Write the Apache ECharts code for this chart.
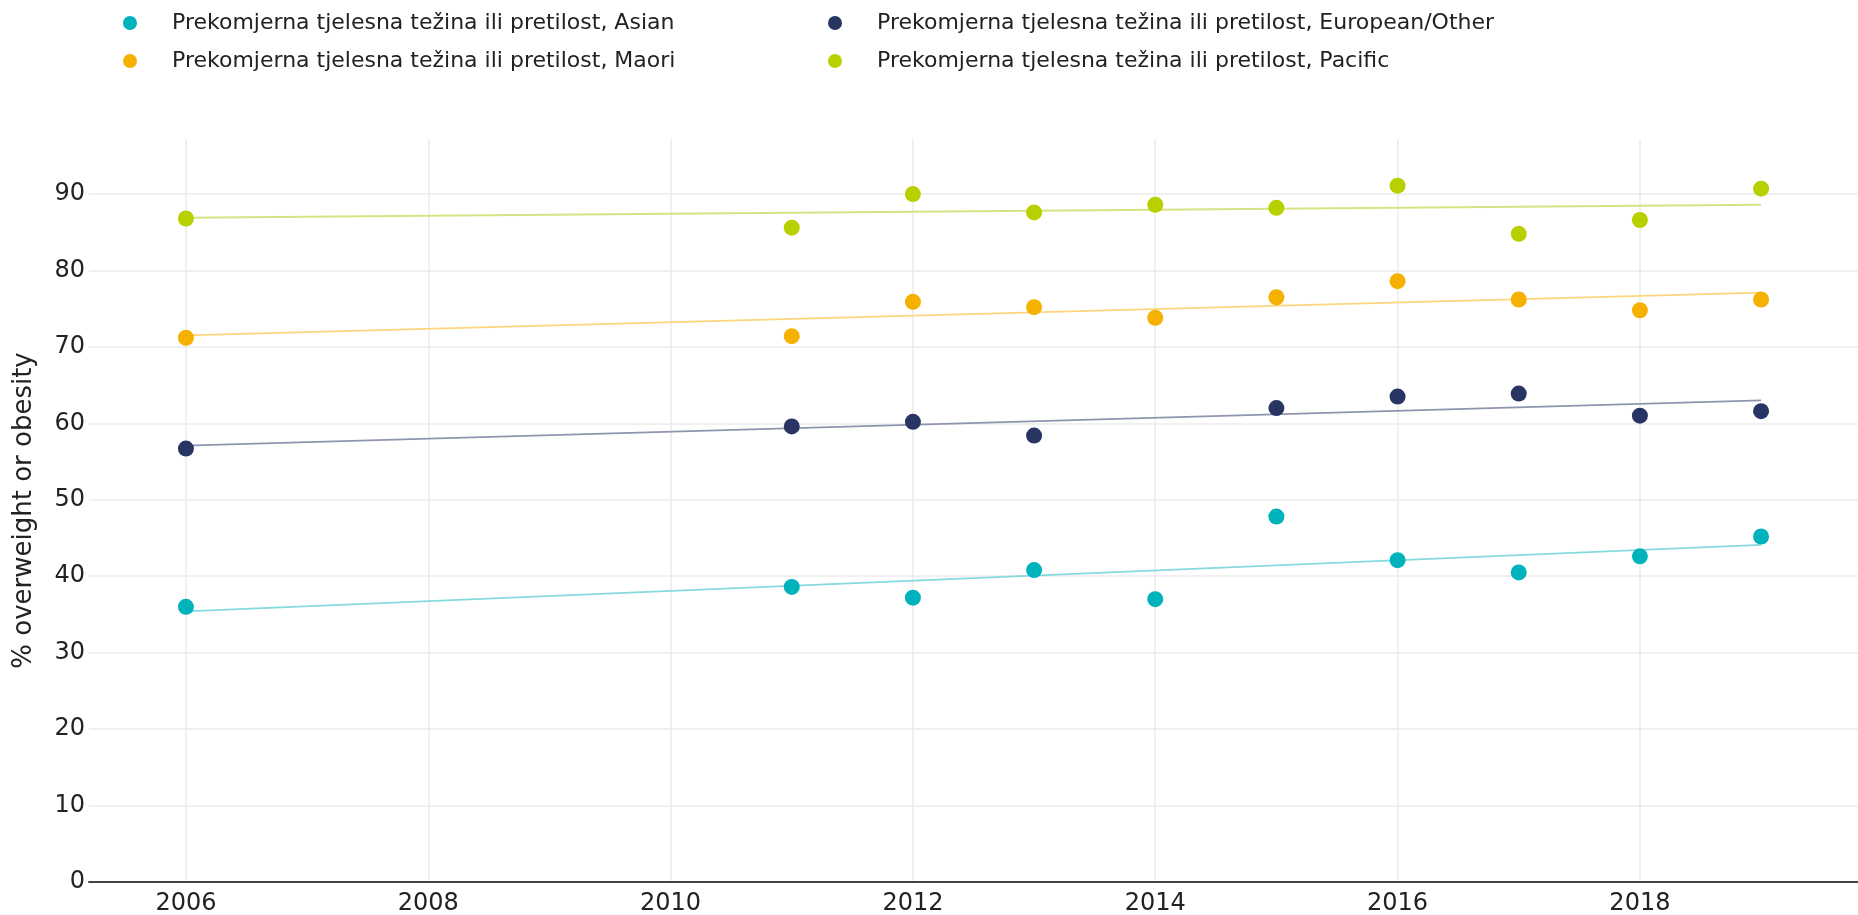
<!DOCTYPE html>
<html>
<head>
<meta charset="utf-8">
<script src="https://cdn.jsdelivr.net/npm/echarts@6/dist/echarts.min.js"></script>
<style>
html,body{margin:0;padding:0;background:#fff;}
#chart{width:1858px;height:915px;}
</style>
</head>
<body>
<div id="chart"></div>
<script>
var years = [2006, 2011, 2012, 2013, 2014, 2015, 2016, 2017, 2018, 2019];
var asian   = [36.0, 38.6, 37.2, 40.8, 37.0, 47.8, 42.1, 40.5, 42.6, 45.2];
var euro    = [56.7, 59.6, 60.2, 58.4, null, 62.0, 63.5, 63.9, 61.0, 61.6];
var maori   = [71.2, 71.4, 75.9, 75.2, 73.8, 76.5, 78.6, 76.2, 74.8, 76.2];
var pacific = [86.8, 85.6, 90.0, 87.6, 88.6, 88.2, 91.1, 84.8, 86.6, 90.7];

var trendYears   = [2006, 2019];
var asianTrend   = [35.4, 44.1];
var euroTrend    = [57.1, 63.0];
var maoriTrend   = [71.5, 77.1];
var pacificTrend = [86.9, 88.6];

var xTicks = [2006, 2008, 2010, 2012, 2014, 2016, 2018];
var yTicks = [0, 10, 20, 30, 40, 50, 60, 70, 80, 90];

var names = [
  'Prekomjerna tjelesna težina ili pretilost, Asian',
  'Prekomjerna tjelesna težina ili pretilost, European/Other',
  'Prekomjerna tjelesna težina ili pretilost, Maori',
  'Prekomjerna tjelesna težina ili pretilost, Pacific'
];
var colors = ['#00b2bb', '#283562', '#f5b000', '#b8cf00'];
var trendColors = ['#86d9dd', '#8e95ae', '#fbd67c', '#d7e383'];
var values = [asian, euro, maori, pacific];
var trends = [asianTrend, euroTrend, maoriTrend, pacificTrend];

function pairs(xs, ys) {
  var out = [];
  for (var i = 0; i < xs.length; i++) if (ys[i] != null) out.push([xs[i], ys[i]]);
  return out;
}

var FONT = '"DejaVu Sans", sans-serif';
var series = [];
for (var i = 0; i < 4; i++) {
  series.push({
    type: 'line', name: names[i] + ' trend', data: pairs(trendYears, trends[i]),
    showSymbol: false, symbol: 'none', silent: true, z: 2,
    lineStyle: {color: trendColors[i], width: 1.8}
  });
}
for (var j = 0; j < 4; j++) {
  series.push({
    type: 'scatter', name: names[j], data: pairs(years, values[j]),
    symbolSize: 16, z: 5, itemStyle: {color: colors[j], opacity: 1}
  });
}

var legendCommon = {
  orient: 'vertical', icon: 'circle', itemWidth: 14, itemHeight: 14, itemGap: 14, padding: 0,
  textStyle: {fontFamily: FONT, fontSize: 22, color: '#222', lineHeight: 24, padding: [0, 0, 0, 30]},
  selectedMode: false
};

var chart = echarts.init(document.getElementById('chart'), null, {renderer: 'canvas'});
chart.setOption({
  animation: false,
  backgroundColor: '#fff',
  color: colors,
  legend: [
    Object.assign({left: 123, top: 11, data: [names[0], names[2]]}, legendCommon),
    Object.assign({left: 828, top: 11, data: [names[1], names[3]]}, legendCommon)
  ],
  grid: {left: 89, right: 0, top: 139, bottom: 33, containLabel: false, outerBoundsMode: 'none'},
  xAxis: {
    type: 'value', min: 2005.2, max: 2019.8,
    axisLine: {show: true, onZero: false, lineStyle: {color: '#444', width: 2}},
    axisTick: {show: false, customValues: xTicks},
    axisLabel: {customValues: xTicks, fontFamily: FONT, fontSize: 24, color: '#222', margin: 10,
      formatter: function (v) { return String(v); }},
    splitLine: {show: true, lineStyle: {color: '#ebebeb', width: 1.5}}
  },
  yAxis: {
    type: 'value', min: 0, max: 97.2,
    name: '% overweight or obesity', nameLocation: 'middle', nameGap: 52,
    nameTextStyle: {fontFamily: FONT, fontSize: 26, color: '#222'},
    axisLine: {show: false},
    axisTick: {show: false, customValues: yTicks},
    axisLabel: {customValues: yTicks, fontFamily: FONT, fontSize: 24, color: '#222', margin: 4},
    splitLine: {show: true, lineStyle: {color: '#ebebeb', width: 1.5}}
  },
  series: series
});
</script>
</body>
</html>
